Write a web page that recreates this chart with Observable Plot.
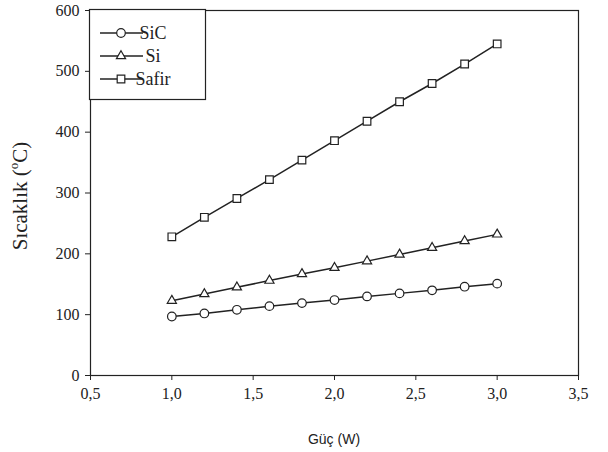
<!DOCTYPE html>
<html><head><meta charset="utf-8">
<script src="https://cdn.jsdelivr.net/npm/d3@7"></script>
<script src="https://cdn.jsdelivr.net/npm/@observablehq/plot@0.6"></script>
<style>body{margin:0;background:#fff}</style>
</head><body><div id="chart"></div>
<script>
const power = [1.0, 1.2, 1.4, 1.6, 1.8, 2.0, 2.2, 2.4, 2.6, 2.8, 3.0];
const sic   = [97, 102, 108, 114, 119, 124, 130, 135, 140, 146, 151];
const si    = [123, 134, 145, 156, 167, 177, 188, 199, 210, 221, 232];
const safir = [228, 260, 291, 322, 354, 386, 418, 450, 480, 512, 545];
const seriesNames = ["SiC", "Si", "Safir"];
const seriesSymbols = ["circle", "triangle", "square"];
const seriesR = [4.3, 3.4, 4.3];
const xTicks = [0.5, 1.0, 1.5, 2.0, 2.5, 3.0, 3.5];
const yTicks = [0, 100, 200, 300, 400, 500, 600];

const rows = [];
[sic, si, safir].forEach((vals, k) => vals.forEach((v, i) => rows.push({x: power[i], y: v, s: seriesNames[k], r: seriesR[k]})));

const serif = "Liberation Serif";
const fmt = d => d.toFixed(1).replace(".", ",");

const chart = Plot.plot({
  width: 608, height: 452,
  marginLeft: 90, marginRight: 30, marginTop: 10, marginBottom: 77,
  style: {fontFamily: serif, fontSize: "16px", color: "#222", background: "#fff"},
  x: {domain: [0.5, 3.5], ticks: xTicks, tickFormat: fmt, label: null},
  y: {domain: [0, 600], ticks: yTicks, label: null},
  r: {type: "identity"},
  symbol: {domain: seriesNames, range: seriesSymbols},
  marks: [
    Plot.frame({stroke: "#222", strokeWidth: 1.2}),
    Plot.line(rows, {x: "x", y: "y", z: "s", stroke: "#222", strokeWidth: 1.5}),
    Plot.dot(rows, {x: "x", y: "y", symbol: "s", r: "r", fill: "white", stroke: "#222", strokeWidth: 1.2}),
    Plot.axisX({ticks: xTicks, tickFormat: fmt, tickSize: 5, tickPadding: 7, fontSize: 16, fontFamily: serif, label: null}),
    Plot.axisY({ticks: yTicks, tickSize: 5, tickPadding: 6, fontSize: 16, fontFamily: serif, label: null})
  ]
});
document.getElementById("chart").appendChild(chart);

const svg = d3.select(chart);
svg.selectAll("text").attr("font-family", serif).attr("font-size", 16);
// axis titles
svg.append("text").attr("x", 334).attr("y", 444).attr("text-anchor", "middle")
  .attr("font-family", "Liberation Sans").attr("font-size", 14).attr("fill", "#222")
  .text("Güç (W)");
const yl = svg.append("text").attr("transform", "translate(27,196) rotate(-90)").attr("text-anchor", "middle")
  .attr("font-family", serif).attr("font-size", 21).attr("fill", "#222");
yl.append("tspan").text("Sıcaklık (");
yl.append("tspan").attr("font-size", 13).attr("dy", -9).text("o");
yl.append("tspan").attr("dy", 9).text("C)");

// legend
const lg = svg.append("g");
lg.append("rect").attr("x", 89.5).attr("y", 9.5).attr("width", 116).attr("height", 90)
  .attr("fill", "white").attr("stroke", "#222").attr("stroke-width", 1.2);
const symGen = {circle: d3.symbolCircle, triangle: d3.symbolTriangle, square: d3.symbolSquare};
seriesNames.forEach((name, k) => {
  const yy = 33 + k * 23;
  lg.append("line").attr("x1", 100).attr("x2", 143).attr("y1", yy).attr("y2", yy).attr("stroke", "#222").attr("stroke-width", 1.5);
  lg.append("path").attr("transform", `translate(121,${yy})`)
    .attr("d", d3.symbol(symGen[seriesSymbols[k]], Math.PI * seriesR[k] * seriesR[k])())
    .attr("fill", "white").attr("stroke", "#222").attr("stroke-width", 1.2);
  lg.append("text").attr("x", 153).attr("y", yy + 6).attr("font-family", serif).attr("font-size", 18).attr("fill", "#222").text(name);
});
</script></body></html>
